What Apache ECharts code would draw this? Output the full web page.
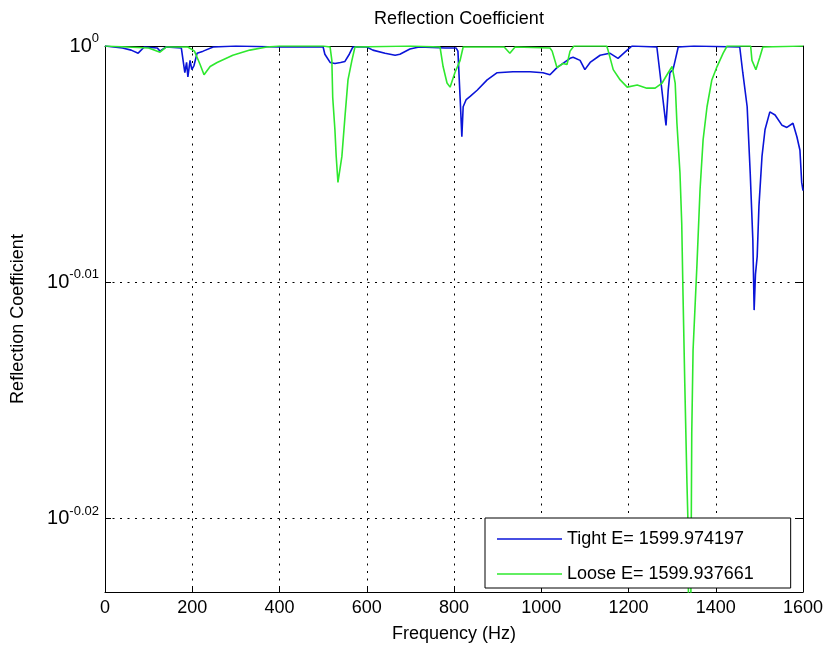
<!DOCTYPE html>
<html>
<head>
<meta charset="utf-8">
<script src="https://cdn.jsdelivr.net/npm/echarts@6/dist/echarts.min.js"></script>
<style>
  html, body { margin: 0; padding: 0; background: #fff; }
  #chart { width: 827px; height: 654px; }
</style>
</head>
<body>
<div id="chart"></div>
<script>
// Reflection coefficient vs frequency (log10 y axis)

const xTicks = [0, 200, 400, 600, 800, 1000, 1200, 1400, 1600];
const yTicks = [0, -0.01, -0.02];   // exponents of 10
const yBottom = -0.0231;            // log10 of the lowest visible value

const tightFreq = [
  0, 40, 60, 76, 90, 120, 126, 140, 175, 183,
  187, 190, 195, 199, 204, 211, 225, 248, 300, 400,
  500, 504, 516, 527, 540, 550, 560, 568, 600, 614,
  642, 665, 676, 699, 720, 780, 805, 809, 814, 818,
  821, 828, 837, 853, 876, 899, 935, 974, 1004, 1020,
  1036, 1066, 1073, 1089, 1100, 1112, 1135, 1157, 1176, 1197,
  1208, 1265, 1272, 1279, 1286, 1291, 1295, 1302, 1307, 1314,
  1350, 1455, 1462, 1472, 1479, 1485, 1488, 1491, 1495, 1499,
  1506, 1513, 1524, 1536, 1552, 1563, 1577, 1586, 1593, 1597,
  1600
];
const tightR = [
  1.0000, 0.9998, 0.9996, 0.9993, 0.9999, 0.9998, 0.9995, 0.9999, 0.9998, 0.9974,
  0.9984, 0.9970, 0.9986, 0.9977, 0.9981, 0.9993, 0.9995, 0.9999, 1.0000, 0.9999,
  0.9999, 0.9992, 0.9984, 0.9983, 0.9984, 0.9985, 0.9992, 0.9999, 0.9999, 0.9996,
  0.9993, 0.9991, 0.9992, 0.9997, 0.9999, 0.9998, 0.9998, 0.9995, 0.9950, 0.9912,
  0.9941, 0.9948, 0.9951, 0.9957, 0.9967, 0.9974, 0.9975, 0.9975, 0.9974, 0.9972,
  0.9979, 0.9988, 0.9989, 0.9986, 0.9977, 0.9984, 0.9991, 0.9993, 0.9988, 0.9996,
  1.0000, 0.9999, 0.9974, 0.9948, 0.9923, 0.9957, 0.9974, 0.9977, 0.9986, 0.9999,
  1.0000, 0.9999, 0.9974, 0.9941, 0.9877, 0.9813, 0.9746, 0.9780, 0.9797, 0.9845,
  0.9893, 0.9919, 0.9936, 0.9933, 0.9923, 0.9921, 0.9925, 0.9912, 0.9899, 0.9868,
  0.9860
];

const looseFreq = [
  0, 50, 100, 126, 140, 190, 205, 211, 218, 227,
  241, 257, 293, 332, 371, 400, 500, 516, 520, 522,
  527, 530, 534, 543, 550, 557, 566, 573, 700, 768,
  775, 784, 791, 802, 814, 821, 915, 928, 940, 1020,
  1025, 1036, 1050, 1059, 1066, 1075, 1150, 1153, 1165, 1181,
  1197, 1220, 1242, 1261, 1277, 1291, 1300, 1307, 1311, 1318,
  1322, 1325, 1329, 1334, 1336, 1338, 1341, 1343, 1345, 1348,
  1357, 1364, 1371, 1380, 1391, 1403, 1417, 1426, 1480, 1483,
  1492, 1501, 1508, 1600
];
const looseR = [
  1.0000, 0.9999, 0.9998, 0.9994, 0.9999, 0.9999, 0.9995, 0.9989, 0.9982, 0.9972,
  0.9980, 0.9984, 0.9991, 0.9996, 0.9999, 1.0000, 1.0000, 0.9999, 0.9986, 0.9950,
  0.9919, 0.9893, 0.9868, 0.9893, 0.9931, 0.9967, 0.9986, 0.9999, 1.0000, 0.9999,
  0.9980, 0.9964, 0.9960, 0.9974, 0.9986, 0.9999, 0.9999, 0.9993, 0.9999, 0.9998,
  0.9995, 0.9979, 0.9983, 0.9982, 0.9995, 1.0000, 1.0000, 0.9996, 0.9977, 0.9967,
  0.9960, 0.9962, 0.9959, 0.9959, 0.9964, 0.9974, 0.9980, 0.9964, 0.9925, 0.9877,
  0.9829, 0.9760, 0.9677, 0.9583, 0.9552, 0.9450, 0.9400, 0.9480, 0.9630, 0.9708,
  0.9790, 0.9861, 0.9909, 0.9941, 0.9967, 0.9980, 0.9993, 1.0000, 1.0000, 0.9986,
  0.9977, 0.9989, 0.9999, 1.0000
];

const tightName = 'Tight E= 1599.974197';
const looseName = 'Loose E= 1599.937661';

const FONT = '"Liberation Sans", Arial, Helvetica, sans-serif';

let toPoints = (freq, r) => freq.map((f, i) => [f, Math.log10(r[i])]);

let expLabel = (v) => {
  const e = Math.abs(v) < 1e-9 ? '0' : v.toFixed(2);
  return '{b|10}{s|' + e + '}';
};

const dotted = { color: '#000', width: 1, type: [2, 5.5] };

const chart = echarts.init(document.getElementById('chart'), null, { renderer: 'canvas' });

chart.setOption({
  animation: false,
  backgroundColor: '#fff',
  textStyle: { fontFamily: FONT, color: '#000' },
  title: {
    text: 'Reflection Coefficient',
    left: 454,
    textAlign: 'center',
    top: 5,
    textStyle: { fontFamily: FONT, fontSize: 18, fontWeight: 'normal', color: '#000' }
  },
  grid: { left: 105, right: 24, top: 46, bottom: 62, outerBoundsMode: 'none', show: false },
  legend: {
    orient: 'vertical',
    left: 485,
    top: 518,
    padding: [11, 37, 4, 12],
    itemGap: 15,
    itemWidth: 65,
    itemHeight: 1.5,
    icon: 'rect',
    backgroundColor: '#fff',
    borderColor: '#000',
    borderWidth: 1,
    textStyle: { fontFamily: FONT, fontSize: 18, color: '#000', lineHeight: 20 },
    data: [tightName, looseName]
  },
  xAxis: [
    {
      type: 'value',
      min: 0, max: 1600, interval: 200,
      name: 'Frequency (Hz)',
      nameLocation: 'middle',
      nameGap: 33,
      nameMoveOverlap: false,
      nameTextStyle: { fontFamily: FONT, fontSize: 18, color: '#000' },
      axisLine: { show: true, onZero: false, lineStyle: { color: '#000', width: 1 } },
      axisTick: { show: true, inside: true, length: 6, lineStyle: { color: '#000' } },
      axisLabel: { color: '#000', fontFamily: FONT, fontSize: 18, margin: 7,
        customValues: xTicks, formatter: (v) => String(v) },
      splitLine: { show: true, lineStyle: dotted }
    },
    {
      type: 'value',
      position: 'top',
      min: 0, max: 1600, interval: 200,
      axisLine: { show: true, onZero: false, lineStyle: { color: '#000', width: 1 } },
      axisTick: { show: true, inside: true, length: 6, lineStyle: { color: '#000' } },
      axisLabel: { show: false },
      splitLine: { show: false }
    }
  ],
  yAxis: [
    {
      type: 'value',
      min: yBottom, max: 0,
      name: 'Reflection Coefficient',
      nameLocation: 'middle',
      nameGap: 78,
      nameMoveOverlap: false,
      nameTextStyle: { fontFamily: FONT, fontSize: 18, color: '#000' },
      axisLine: { show: true, onZero: false, lineStyle: { color: '#000', width: 1 } },
      axisTick: { show: true, inside: true, length: 6, customValues: yTicks,
        lineStyle: { color: '#000' } },
      axisLabel: {
        customValues: yTicks,
        margin: 6,
        formatter: expLabel,
        rich: {
          b: { fontFamily: FONT, fontSize: 20, color: '#000' },
          s: { fontFamily: FONT, fontSize: 13, color: '#000', padding: [0, 0, 15, 0] }
        }
      },
      splitLine: { show: true, lineStyle: dotted }
    },
    {
      type: 'value',
      position: 'right',
      min: yBottom, max: 0,
      axisLine: { show: true, onZero: false, lineStyle: { color: '#000', width: 1 } },
      axisTick: { show: true, inside: true, length: 6, customValues: yTicks,
        lineStyle: { color: '#000' } },
      axisLabel: { show: false, customValues: yTicks },
      splitLine: { show: false }
    }
  ],
  series: [
    {
      name: tightName,
      type: 'line',
      data: toPoints(tightFreq, tightR),
      showSymbol: false,
      symbol: 'none',
      clip: true,
      color: '#0a14d8',
      lineStyle: { color: '#0a14d8', width: 1.6 }
    },
    {
      name: looseName,
      type: 'line',
      data: toPoints(looseFreq, looseR),
      showSymbol: false,
      symbol: 'none',
      clip: true,
      color: '#2ee82e',
      lineStyle: { color: '#2ee82e', width: 1.6 }
    }
  ]
});
</script>
</body>
</html>
